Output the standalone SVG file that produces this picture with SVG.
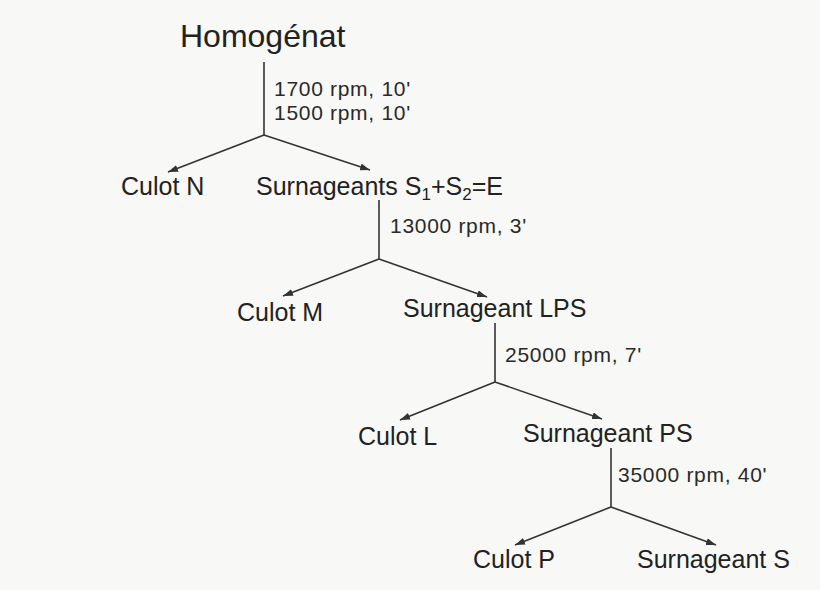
<svg xmlns="http://www.w3.org/2000/svg" width="820" height="590" viewBox="0 0 820 590">
<style>
.node{font-family:"Liberation Sans",Arial,sans-serif;font-size:25px;fill:#222}
.title{font-family:"Liberation Sans",Arial,sans-serif;font-size:32px;fill:#222}
.lbl{font-family:"Liberation Sans",Arial,sans-serif;font-size:21px;letter-spacing:0.7px;fill:#2a2a2a}
.sub{font-size:17px}
.conn line{stroke:#333;stroke-width:1.6;fill:none}
.conn line.arr{marker-end:url(#ah)}
</style>
<defs>
<marker id="ah" viewBox="0 0 10 7" refX="10" refY="3.5" markerWidth="10" markerHeight="7" markerUnits="userSpaceOnUse" orient="auto">
<path d="M0,0 L10,3.5 L0,7 z" fill="#333"/>
</marker>
</defs>
<rect width="820" height="590" fill="#f8f8f6"/>

<g id="connectors" class="conn">
<line x1="264" y1="62" x2="264" y2="135"/>
<line class="arr" x1="264" y1="135" x2="168" y2="172"/>
<line class="arr" x1="264" y1="135" x2="370" y2="170"/>
<line x1="379" y1="200" x2="379" y2="259"/>
<line class="arr" x1="379" y1="259" x2="283" y2="296"/>
<line class="arr" x1="379" y1="259" x2="487" y2="297"/>
<line x1="495" y1="323" x2="495" y2="382"/>
<line class="arr" x1="495" y1="382" x2="400" y2="420"/>
<line class="arr" x1="495" y1="382" x2="602" y2="419"/>
<line x1="611" y1="448" x2="611" y2="507"/>
<line class="arr" x1="611" y1="507" x2="515" y2="545"/>
<line class="arr" x1="611" y1="507" x2="716" y2="545"/>
</g>

<g id="labels">
<text class="lbl" x="274" y="96">1700 rpm, 10'</text>
<text class="lbl" x="274" y="120">1500 rpm, 10'</text>
<text class="lbl" x="390" y="233">13000 rpm, 3'</text>
<text class="lbl" x="505" y="362">25000 rpm, 7'</text>
<text class="lbl" x="618" y="482">35000 rpm, 40'</text>
</g>

<g id="homogenat"><text class="title" x="180" y="47">Homogénat</text></g>
<g id="culot-n"><text class="node" x="121" y="195">Culot N</text></g>
<g id="surnageants-e"><text class="node" x="256" y="195">Surnageants S<tspan class="sub" dy="5">1</tspan><tspan dy="-5">+S</tspan><tspan class="sub" dy="5">2</tspan><tspan dy="-5">=E</tspan></text></g>
<g id="culot-m"><text class="node" x="237" y="321">Culot M</text></g>
<g id="surnageant-lps"><text class="node" x="403" y="317">Surnageant LPS</text></g>
<g id="culot-l"><text class="node" x="358" y="445">Culot L</text></g>
<g id="surnageant-ps"><text class="node" x="523" y="442">Surnageant PS</text></g>
<g id="culot-p"><text class="node" x="473" y="568">Culot P</text></g>
<g id="surnageant-s"><text class="node" x="637" y="568">Surnageant S</text></g>
</svg>
